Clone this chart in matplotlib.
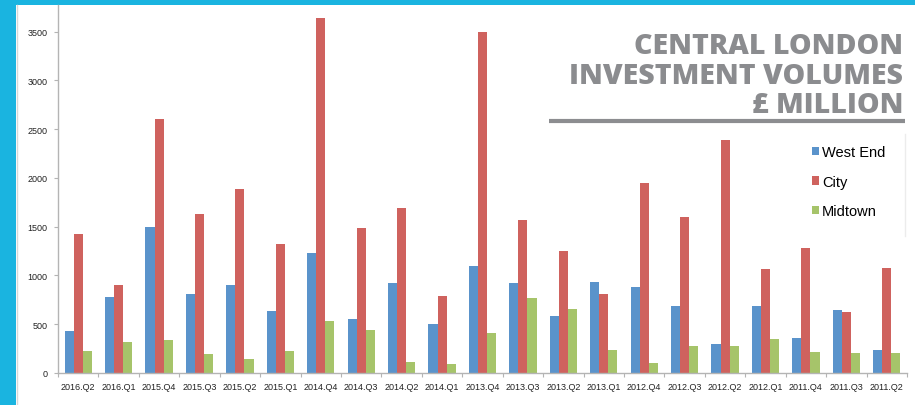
import matplotlib
matplotlib.use("Agg")
import matplotlib.pyplot as plt
import numpy as np
from matplotlib.patches import Patch, Rectangle
from matplotlib.lines import Line2D

categories = ["2016.Q2", "2016.Q1", "2015.Q4", "2015.Q3", "2015.Q2", "2015.Q1",
              "2014.Q4", "2014.Q3", "2014.Q2", "2014.Q1", "2013.Q4", "2013.Q3",
              "2013.Q2", "2013.Q1", "2012.Q4", "2012.Q3", "2012.Q2", "2012.Q1",
              "2011.Q4", "2011.Q3", "2011.Q2"]
west_end = [430, 775, 1500, 812, 905, 632, 1234, 557, 922, 502, 1100, 923,
            585, 933, 879, 687, 301, 687, 359, 649, 239]
city = [1425, 905, 2608, 1627, 1884, 1326, 3640, 1490, 1692, 786, 3500, 1572,
        1251, 807, 1948, 1600, 2386, 1070, 1282, 622, 1080]
midtown = [229, 321, 338, 191, 147, 229, 537, 438, 116, 92, 413, 769,
           656, 239, 99, 274, 274, 349, 212, 202, 202]
series_names = ["West End", "City", "Midtown"]
y_ticks = [0, 500, 1000, 1500, 2000, 2500, 3000, 3500]

colors = ["#5a93cb", "#cf625e", "#a6c46a"]

W, H = 915, 406
fig = plt.figure(figsize=(W / 100, H / 100), dpi=100)
fig.patch.set_facecolor("#1ab4e0")

# white panel
fig.add_artist(Rectangle((16 / W, 0), 1 - 16 / W, 1 - 6 / H, transform=fig.transFigure,
                         facecolor="white", edgecolor="none", zorder=0))
fig.add_artist(Line2D([17 / W, 17 / W], [0, 1 - 6 / H], transform=fig.transFigure,
                      color="#d8d8d8", lw=1, zorder=1))

ax_left, ax_right = 58 / W, 907 / W
ax_bottom, ax_top = 1 - 374 / H, 1 - 6 / H
ax = fig.add_axes([ax_left, ax_bottom, ax_right - ax_left, ax_top - ax_bottom])
ax.set_facecolor("none")

x = np.arange(len(categories))
bw = 0.225
for i, (vals, name) in enumerate(zip([west_end, city, midtown], series_names)):
    ax.bar(x + (i - 1) * bw, vals, width=bw, color=colors[i], label=name,
           edgecolor="none", zorder=2)

ax.set_xlim(-0.5, len(categories) - 0.5)
ax.set_ylim(0, 3773)
ax.set_yticks(y_ticks)
ax.set_yticklabels([str(v) for v in y_ticks])
ax.set_xticks(x)
ax.set_xticklabels(categories)
ax.set_xticks(np.arange(len(categories) + 1) - 0.5, minor=True)

for s in ["top", "right"]:
    ax.spines[s].set_visible(False)
ax.spines["left"].set_color("#b4b4b4")
ax.spines["bottom"].set_color("#b4b4b4")
ax.spines["left"].set_linewidth(1.0)
ax.spines["bottom"].set_linewidth(1.0)

ax.tick_params(axis="x", which="major", length=0, pad=6.5, labelsize=6.5,
               labelcolor="#222222")
ax.tick_params(axis="x", which="minor", length=3, color="#b4b4b4", width=0.8)
ax.tick_params(axis="y", which="major", length=3, color="#b4b4b4", width=0.8,
               pad=4.5, labelsize=6.5, labelcolor="#222222")
for lab in ax.get_xticklabels() + ax.get_yticklabels():
    lab.set_fontfamily("Liberation Sans")

# title
title_color = "#8b8c8f"
title_lines = ["CENTRAL LONDON", "INVESTMENT VOLUMES", "£ MILLION"]
baselines = [54, 84, 113]
for line, b in zip(title_lines, baselines):
    fig.text(903 / W, 1 - b / H, line, ha="right", va="baseline",
             fontfamily="Open Sans", fontweight=800, fontsize=20.5,
             color=title_color)
fig.add_artist(Line2D([549 / W, 905 / W], [1 - 121.7 / H, 1 - 121.7 / H],
                      transform=fig.transFigure, color="#8c8d90", lw=3.0,
                      solid_capstyle="butt"))

# legend
handles = [Patch(facecolor=c, edgecolor="none") for c in colors]
leg = fig.legend(handles, series_names, loc="upper left",
                 bbox_to_anchor=(812 / W, 1 - 146.5 / H),
                 frameon=False, prop={"family": "Liberation Sans", "size": 10.5},
                 handlelength=0.5, handleheight=0.5, handletextpad=0.2,
                 labelspacing=1.05, borderaxespad=0, borderpad=0)
fig.add_artist(Line2D([905 / W, 905 / W], [1 - 135 / H, 1 - 237 / H],
                      transform=fig.transFigure, color="#ececec", lw=1))

fig.savefig("out.png", dpi=100)
